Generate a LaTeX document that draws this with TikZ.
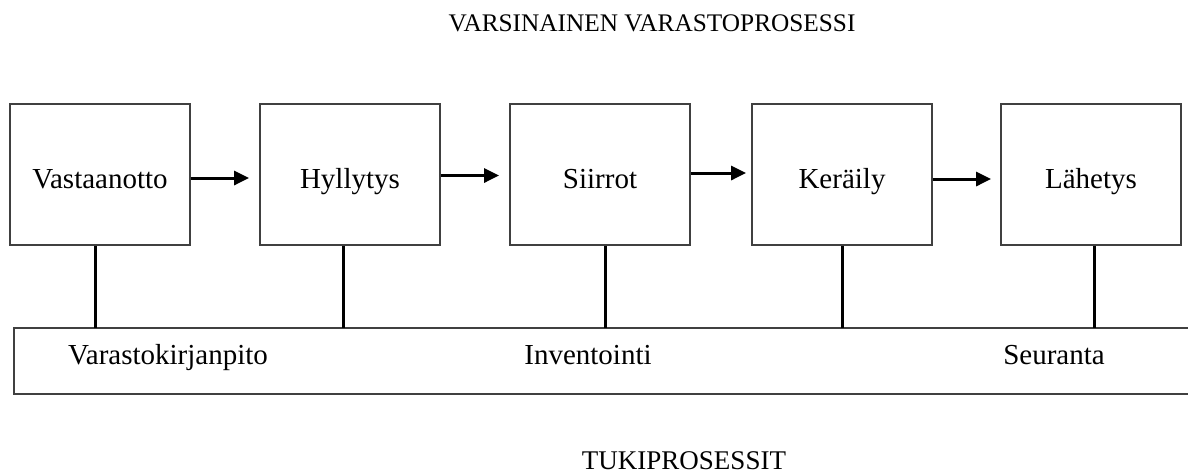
\documentclass[tikz,border=0pt]{standalone}
\usepackage{fontspec}
\setmainfont{Liberation Serif}
\usetikzlibrary{arrows.meta}
\begin{document}
\begin{tikzpicture}[x=1pt,y=-1pt,
  stepbox/.style={draw=black!75,line width=1.8pt,minimum width=180pt,minimum height=141pt,inner sep=0pt,text height=30pt,text depth=3pt,font=\fontsize{29}{33}\selectfont},
  lbl/.style={inner sep=0pt,anchor=base,font=\fontsize{29}{33}\selectfont},
  ttl/.style={inner sep=0pt,anchor=base,font=\fontsize{25.3}{30}\selectfont},
  ttlb/.style={inner sep=0pt,anchor=base,font=\fontsize{27}{30}\selectfont},
  arr/.style={line width=3pt,-{Triangle[length=15pt,width=14pt]}},
  conn/.style={line width=3pt}]
\useasboundingbox (0,0) rectangle (1188,475);
\node[ttl] (t1) at (652,31) {VARSINAINEN VARASTOPROSESSI};
\node[stepbox] (b1) at (100,174.5) {Vastaanotto};
\node[stepbox] (b2) at (350,174.5) {Hyllytys};
\node[stepbox] (b3) at (600,174.5) {Siirrot};
\node[stepbox] (b4) at (842,174.5) {Keräily};
\node[stepbox] (b5) at (1091,174.5) {Lähetys};
\draw[arr] ([yshift=-3.5pt]b1.east) -- ([xshift=-10pt,yshift=-3.5pt]b1.east -| b2.west);
\draw[arr] ([yshift=-1pt]b2.east) -- ([xshift=-10pt,yshift=-1pt]b2.east -| b3.west);
\draw[arr] ([yshift=1.5pt]b3.east) -- ([xshift=-5pt,yshift=1.5pt]b3.east -| b4.west);
\draw[arr] ([yshift=-4.5pt]b4.east) -- ([xshift=-9pt,yshift=-4.5pt]b4.east -| b5.west);
\draw[draw=black!75,line width=1.8pt] (1192,328) -- (14,328) -- (14,394) -- (1192,394);
\coordinate (c1) at (95,328);
\coordinate (c2) at (343,328);
\coordinate (c3) at (605,328);
\coordinate (c4) at (842,328);
\coordinate (c5) at (1094,328);
\draw[conn] (b1.south -| c1) -- (c1);
\draw[conn] (b2.south -| c2) -- (c2);
\draw[conn] (b3.south -| c3) -- (c3);
\draw[conn] (b4.south -| c4) -- (c4);
\draw[conn] (b5.south -| c5) -- (c5);
\node[lbl] (l1) at (168,364) {Varastokirjanpito};
\node[lbl] (l2) at (588,364) {Inventointi};
\node[lbl] (l3) at (1054,364) {Seuranta};
\node[ttlb] (t2) at (684,469) {TUKIPROSESSIT};
\end{tikzpicture}
\end{document}
